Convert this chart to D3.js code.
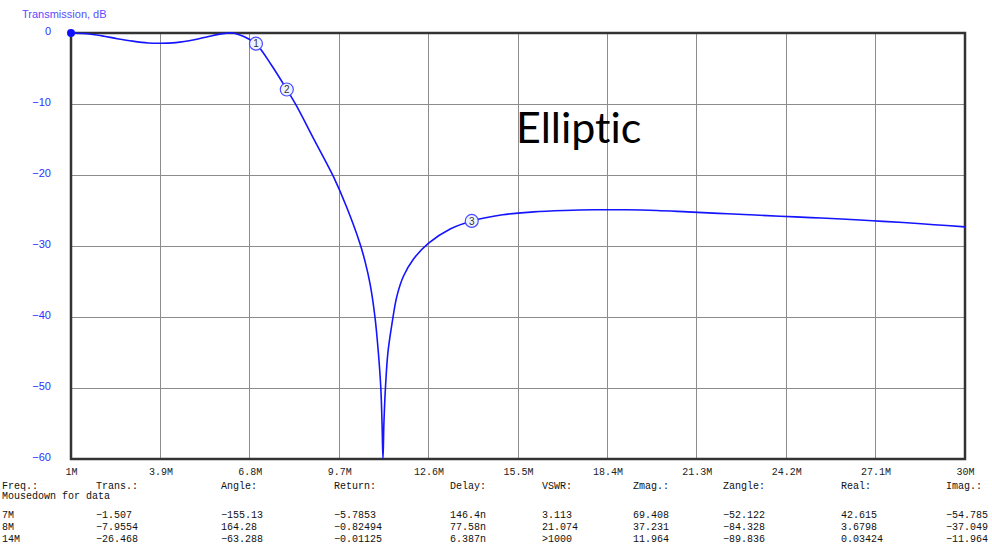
<!DOCTYPE html>
<html><head><meta charset="utf-8">
<script src="https://cdn.jsdelivr.net/npm/d3@7"></script>
<style>body{margin:0;background:#fff}svg{display:block}</style>
</head><body>
<script>
// ---- data ----
const freqMHz = [1,1.5,2,2.5,3,3.5,3.9,4.4,5,5.5,6,6.25,6.5,6.75,7,7.5,8,8.32,8.86,9.51,9.94,10.37,10.54,10.7,10.86,10.97,11.05,11.09,11.12,11.15,11.2,11.28,11.41,11.57,11.78,12.1,12.6,13.3,14,15,16,17,18,19,20,21,22,23,24,25,26,27,28,29,30];
const transDB = [0,-0.1,-0.4,-0.8,-1.15,-1.4,-1.45,-1.35,-0.95,-0.45,-0.05,0,-0.3,-0.8,-1.507,-4.5,-7.955,-10.3,-14.8,-20.2,-24.5,-29.6,-32.2,-35.3,-40,-45,-50,-55,-60,-55,-50,-45,-41,-37.1,-34.3,-31.9,-29.6,-27.6,-26.468,-25.6,-25.2,-25.0,-24.9,-24.9,-25.0,-25.2,-25.4,-25.6,-25.8,-26.0,-26.2,-26.45,-26.7,-27.0,-27.3];
const xTickValues = [1,3.9,6.8,9.7,12.6,15.5,18.4,21.3,24.2,27.1,30];
const xTickLabels = ["1M","3.9M","6.8M","9.7M","12.6M","15.5M","18.4M","21.3M","24.2M","27.1M","30M"];
const yTickValues = [0,-10,-20,-30,-40,-50,-60];
const markerIds = [1,2,3];
const markerFreq = [7,8,14];
const markerTrans = [-1.507,-7.9554,-26.468];
const tableHeaders = ["Freq.:","Trans.:","Angle:","Return:","Delay:","VSWR:","Zmag.:","Zangle:","Real:","Imag.:"];
const rowFreq = ["7M","8M","14M"];
const rowTrans = ["\u22121.507","\u22127.9554","\u221226.468"];
const rowAngle = ["\u2212155.13","164.28","\u221263.288"];
const rowReturn = ["\u22125.7853","\u22120.82494","\u22120.01125"];
const rowDelay = ["146.4n","77.58n","6.387n"];
const rowVSWR = ["3.113","21.074",">1000"];
const rowZmag = ["69.408","37.231","11.964"];
const rowZangle = ["\u221252.122","\u221284.328","\u221289.836"];
const rowReal = ["42.615","3.6798","0.03424"];
const rowImag = ["\u221254.785","\u221237.049","\u221211.964"];

const W = 992, H = 554;
const L = 71, R = 965, T = 33, B = 459;
const svg = d3.select("body").append("svg").attr("width", W).attr("height", H);
const x = d3.scaleLinear().domain([1,30]).range([L,R]);
const y = d3.scaleLinear().domain([-60,0]).range([B,T]);

svg.append("clipPath").attr("id","plotclip").append("rect")
  .attr("x", L).attr("y", T-3).attr("width", R-L).attr("height", B-T+3);

// grid
const g = svg.append("g");
g.selectAll(".vg").data(xTickValues.slice(1,-1)).join("line")
  .attr("x1", d=>x(d)).attr("x2", d=>x(d)).attr("y1", T).attr("y2", B)
  .attr("stroke", "#8c8c8c").attr("stroke-width", 1).attr("shape-rendering","crispEdges");
g.selectAll(".hg").data(yTickValues.slice(1,-1)).join("line")
  .attr("x1", L).attr("x2", R).attr("y1", d=>y(d)).attr("y2", d=>y(d))
  .attr("stroke", "#8c8c8c").attr("stroke-width", 1).attr("shape-rendering","crispEdges");

// y axis labels
const yAxis = d3.axisLeft(y).tickValues(yTickValues).tickSize(0).tickPadding(20).tickFormat(d3.format("d"));
const ya = svg.append("g").attr("transform", `translate(${L},0)`).call(yAxis);
ya.select(".domain").remove();
ya.selectAll("text").attr("fill","#3030ff").style("font-family","Liberation Sans, Arial, sans-serif").style("font-size","11px").attr("dy","0.12em");

// x axis labels
const xAxis = d3.axisBottom(x).tickValues(xTickValues).tickSize(0).tickPadding(9).tickFormat((d,i)=>xTickLabels[i]);
const xa = svg.append("g").attr("transform", `translate(0,${B})`).call(xAxis);
xa.select(".domain").remove();
xa.selectAll("text").attr("fill","#222").style("font-family","Liberation Mono, Courier New, monospace").style("font-size","10px");

// frame
svg.append("rect").attr("x", L).attr("y", T).attr("width", R-L).attr("height", B-T)
  .attr("fill","none").attr("stroke","#333").attr("stroke-width",2.5);

// title
svg.append("text").attr("x", 22).attr("y", 18).text("Transmission, dB")
  .attr("fill","#5a4cff").style("font-family","Liberation Sans, Arial, sans-serif").style("font-size","11px");

// curve
const pts = freqMHz.map((f,i)=>[f, transDB[i]]);
svg.append("path").datum(pts).attr("clip-path","url(#plotclip)")
  .attr("d", d3.line().x(d=>x(d[0])).y(d=>y(d[1])).curve(d3.curveCatmullRom.alpha(0.5)))
  .attr("fill","none").attr("stroke","#1414ff").attr("stroke-width",1.6);

// start dot
svg.append("circle").attr("cx", x(freqMHz[0])).attr("cy", y(transDB[0])).attr("r",4).attr("fill","#1010ff");

// markers
const mk = svg.selectAll(".mk").data(markerIds).join("g")
  .attr("transform",(d,i)=>`translate(${x(markerFreq[i])},${y(markerTrans[i])})`);
mk.append("circle").attr("r",6.5).attr("fill","#eef4ff").attr("stroke","#4a4aff").attr("stroke-width",1.2);
mk.append("text").text(d=>d).attr("text-anchor","middle").attr("dy","0.36em")
  .attr("fill","#333").style("font-family","Liberation Sans, Arial, sans-serif").style("font-size","10px");

// annotation
svg.append("text").attr("x", 516).attr("y", 143).text("Elliptic")
  .attr("fill","#000").style("font-family","Lato, Open Sans, sans-serif").style("font-size","43px")
  .style("font-variant-ligatures","none");

// table
const colX = [2,96,221,334,450,542,633,723,841,946];
const mono = "Liberation Mono, Courier New, monospace";
const tbl = svg.append("g").style("font-family", mono).style("font-size","10px").attr("fill","#111");
tbl.selectAll(".hd").data(tableHeaders).join("text").attr("x",(d,i)=>colX[i]).attr("y",489).text(d=>d);
tbl.append("text").attr("x",2).attr("y",499).text("Mousedown for data");
const cols = [rowFreq,rowTrans,rowAngle,rowReturn,rowDelay,rowVSWR,rowZmag,rowZangle,rowReal,rowImag];
const rowY = [518,530,542];
cols.forEach((col,ci)=>{
  tbl.selectAll(null).data(col).join("text").attr("x",colX[ci]).attr("y",(d,i)=>rowY[i]).text(d=>d);
});
</script>
</body></html>
